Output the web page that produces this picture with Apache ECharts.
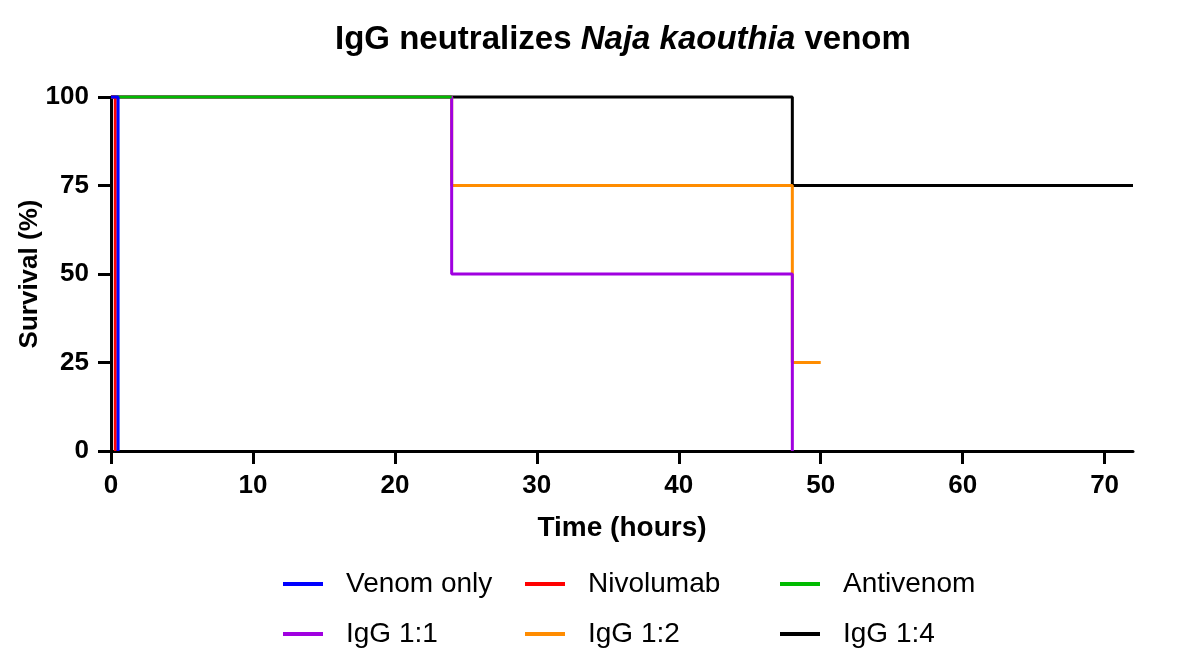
<!DOCTYPE html>
<html>
<head>
<meta charset="utf-8">
<script src="https://cdn.jsdelivr.net/npm/echarts@6/dist/echarts.min.js"></script>
<style>
  html, body { margin: 0; padding: 0; background: #fff; }
  #chart { width: 1200px; height: 660px; }
</style>
</head>
<body>
<div id="chart"></div>
<script>
// Kaplan-Meier steps: time (hours) and survival (%) at each event
const venomTime = [0, 0.5];
const venomSurv = [100, 0];
const nivoTime = [0, 0.3];
const nivoSurv = [100, 0];
const antiTime = [0, 24];
const antiSurv = [100, 100];
const igg11Time = [0, 24, 48];
const igg11Surv = [100, 50, 0];
const igg12Time = [0, 24, 48, 50];
const igg12Surv = [100, 75, 25, 25];
const igg14Time = [0, 48, 72];
const igg14Surv = [100, 75, 75];

const xTicks = [0, 10, 20, 30, 40, 50, 60, 70];
const yTicks = [0, 25, 50, 75, 100];

const FONT = "Liberation Sans";

const pairs = (t, s) => t.map((v, i) => [v, s[i]]);

const seriesDefs = [
  { name: "IgG 1:4", color: "#000000", data: pairs(igg14Time, igg14Surv), z: 2 },
  { name: "IgG 1:2", color: "#ff8c00", data: pairs(igg12Time, igg12Surv), z: 3 },
  { name: "IgG 1:1", color: "#a000e0", data: pairs(igg11Time, igg11Surv), z: 4 },
  { name: "Antivenom", color: "#00bb00", data: pairs(antiTime, antiSurv), z: 5 },
  { name: "Nivolumab", color: "#ff0000", data: pairs(nivoTime, nivoSurv), z: 6 },
  { name: "Venom only", color: "#0000ff", data: pairs(venomTime, venomSurv), z: 7 },
];

// legend layout: name, left, top
const legendPos = [
  ["Venom only", 278, 565],
  ["Nivolumab", 520, 565],
  ["Antivenom", 775, 565],
  ["IgG 1:1", 278, 615],
  ["IgG 1:2", 520, 615],
  ["IgG 1:4", 775, 615],
];

const chart = echarts.init(document.getElementById("chart"));

const option = {
  animation: false,
  backgroundColor: "#fff",
  title: {
    text: "{a|IgG neutralizes }{b|Naja kaouthia}{a| venom}",
    left: 330,
    top: 18,
    textStyle: {
      rich: {
        a: { fontFamily: FONT, fontSize: 33, fontWeight: "bold", color: "#000" },
        b: { fontFamily: FONT, fontSize: 33, fontWeight: "bold", fontStyle: "italic", color: "#000" },
      },
    },
  },
  legend: legendPos.map(([name, left, top]) => ({
    data: [name],
    left: left,
    top: top,
    icon: "rect",
    itemWidth: 40,
    itemHeight: 4,
    itemGap: 0,
    textStyle: { fontFamily: FONT, fontSize: 28, color: "#000", padding: [0, 0, 0, 18] },
  })),
  grid: { left: 111, right: 67, top: 97, bottom: 209 },
  xAxis: {
    type: "value",
    min: 0,
    max: 72,
    interval: 10,
    name: "Time (hours)",
    nameLocation: "middle",
    nameGap: 63,
    nameMoveOverlap: false,
    nameTextStyle: { fontFamily: FONT, fontSize: 28, fontWeight: "bold", color: "#000" },
    splitLine: { show: false },
    axisLine: { show: true, onZero: false, lineStyle: { color: "#000", width: 3 } },
    axisTick: { show: true, length: 13, lineStyle: { color: "#000", width: 3 } },
    axisLabel: {
      margin: 22,
      fontFamily: FONT,
      fontSize: 26,
      fontWeight: "bold",
      color: "#000",
      showMaxLabel: false,
      formatter: (v) => (xTicks.includes(v) ? String(v) : ""),
    },
  },
  yAxis: {
    type: "value",
    min: 0,
    max: 100,
    interval: 25,
    name: "Survival (%)",
    nameLocation: "middle",
    nameGap: 68,
    nameMoveOverlap: false,
    nameTextStyle: { fontFamily: FONT, fontSize: 26, fontWeight: "bold", color: "#000" },
    splitLine: { show: false },
    axisLine: { show: true, onZero: false, lineStyle: { color: "#000", width: 3 } },
    axisTick: { show: true, length: 13, lineStyle: { color: "#000", width: 3 } },
    axisLabel: {
      margin: 22,
      fontFamily: FONT,
      fontSize: 26,
      fontWeight: "bold",
      color: "#000",
      formatter: (v) => (yTicks.includes(v) ? String(v) : ""),
    },
  },
  series: seriesDefs.map((s) => ({
    name: s.name,
    type: "line",
    step: "end",
    data: s.data,
    z: s.z,
    symbol: "none",
    clip: false,
    color: s.color,
    lineStyle: { color: s.color, width: 3 },
  })),
};

chart.setOption(option);
</script>
</body>
</html>
